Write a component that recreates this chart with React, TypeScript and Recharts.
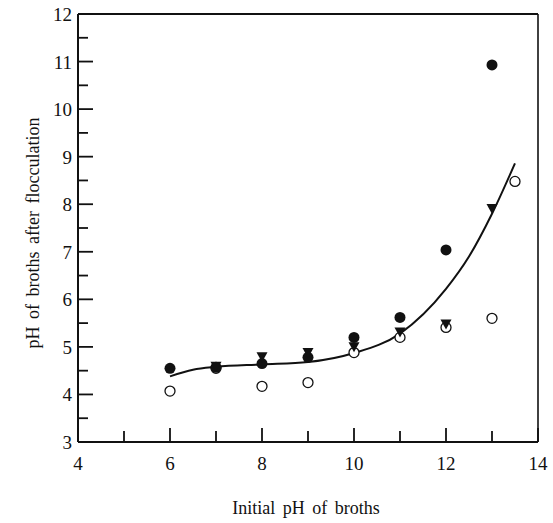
import React from 'react';
import { ComposedChart, Line, Scatter, XAxis, YAxis, ReferenceLine } from 'recharts';

const xTicks = [4, 5, 6, 7, 8, 9, 10, 11, 12, 13, 14];
const yTicks = [3, 3.5, 4, 4.5, 5, 5.5, 6, 6.5, 7, 7.5, 8, 8.5, 9, 9.5, 10, 10.5, 11, 11.5, 12];

// filled circles
const solidX = [6, 7, 8, 9, 10, 11, 12, 13];
const solidY = [4.55, 4.57, 4.65, 4.78, 5.2, 5.62, 7.04, 10.93];

// inverted triangles
const triX = [7, 8, 9, 10, 11, 12, 13];
const triY = [4.58, 4.78, 4.87, 4.99, 5.3, 5.47, 7.9];

// open circles
const openX = [6, 7, 8, 9, 10, 11, 12, 13, 13.5];
const openY = [4.07, 4.55, 4.17, 4.25, 4.88, 5.2, 5.41, 5.6, 8.48];

// fitted curve
const fitX = [6, 6.5, 7, 8, 9, 10, 11, 12, 12.5, 13, 13.5];
const fitY = [4.38, 4.52, 4.58, 4.63, 4.68, 4.87, 5.28, 6.22, 6.9, 7.8, 8.86];

const zip = (xs: number[], ys: number[]) => xs.map((x, i) => ({ x, y: ys[i] }));

const solid = zip(solidX, solidY);
const tri = zip(triX, triY);
const open = zip(openX, openY);
const fit = zip(fitX, fitY);

const INK = '#111';
const FONT = '"Liberation Serif", "DejaVu Serif", serif';

const XTick = (props: any) => {
  const { x, y, payload } = props;
  const v = payload.value as number;
  const major = v % 2 === 0;
  return (
    <g>
      <line x1={x} y1={y} x2={x} y2={y - (major ? 14 : 11)} stroke={INK} strokeWidth={1.8} />
      {major && (
        <text x={x} y={y + 28} textAnchor="middle" style={{ fontFamily: FONT, fontSize: 19 }} fill={INK}>
          {v}
        </text>
      )}
    </g>
  );
};

const YTick = (props: any) => {
  const { x, y, payload } = props;
  const v = payload.value as number;
  const major = Number.isInteger(v);
  return (
    <g>
      <line x1={x} y1={y} x2={x + (major ? 15 : 10)} y2={y} stroke={INK} strokeWidth={1.8} />
      {major && (
        <text x={x - 6} y={y + 7} textAnchor="end" style={{ fontFamily: FONT, fontSize: 19 }} fill={INK}>
          {v}
        </text>
      )}
    </g>
  );
};

const SolidDot = (props: any) => <circle cx={props.cx} cy={props.cy} r={5.5} fill={INK} />;
const OpenDot = (props: any) => (
  <circle cx={props.cx} cy={props.cy} r={5} fill="#fff" stroke={INK} strokeWidth={1.3} />
);
const TriDot = (props: any) => {
  const { cx, cy } = props;
  return <path d={`M${cx - 5.5},${cy - 5} L${cx + 5.5},${cy - 5} L${cx},${cy + 5} Z`} fill={INK} />;
};

export default function App() {
  return (
    <div style={{ position: 'absolute', left: 0, top: 0, width: 553, height: 523, background: '#fff' }}>
      <ComposedChart width={553} height={523} margin={{ top: 14, right: 15, bottom: 0, left: 0 }}>
        <XAxis
          type="number"
          dataKey="x"
          domain={[4, 14]}
          ticks={xTicks}
          interval={0}
          allowDataOverflow
          height={81}
          tickSize={0}
          tickMargin={0}
          tickLine={false}
          tick={<XTick />}
          axisLine={{ stroke: INK, strokeWidth: 2 }}
        />
        <YAxis
          type="number"
          dataKey="y"
          domain={[3, 12]}
          ticks={yTicks}
          interval={0}
          allowDataOverflow
          width={78}
          tickSize={0}
          tickMargin={0}
          tickLine={false}
          tick={<YTick />}
          axisLine={{ stroke: INK, strokeWidth: 2 }}
        />
        <ReferenceLine y={12} stroke={INK} strokeWidth={2} />
        <ReferenceLine x={14} stroke={INK} strokeWidth={1.6} />
        <Line
          data={fit}
          dataKey="y"
          type="monotone"
          stroke={INK}
          strokeWidth={2}
          dot={false}
          isAnimationActive={false}
        />
        <Scatter data={open} dataKey="y" shape={<OpenDot />} isAnimationActive={false} />
        <Scatter data={solid} dataKey="y" shape={<SolidDot />} isAnimationActive={false} />
        <Scatter data={tri} dataKey="y" shape={<TriDot />} isAnimationActive={false} />
        <text
          x={306}
          y={514}
          textAnchor="middle"
          style={{ fontFamily: FONT, fontSize: 18, wordSpacing: 3 }}
          fill={INK}
        >
          Initial pH of broths
        </text>
        <text
          x={39}
          y={233}
          textAnchor="middle"
          style={{ fontFamily: FONT, fontSize: 18, wordSpacing: 3 }}
          fill={INK}
          transform="rotate(-90 39 233)"
        >
          pH of broths after flocculation
        </text>
      </ComposedChart>
    </div>
  );
}
